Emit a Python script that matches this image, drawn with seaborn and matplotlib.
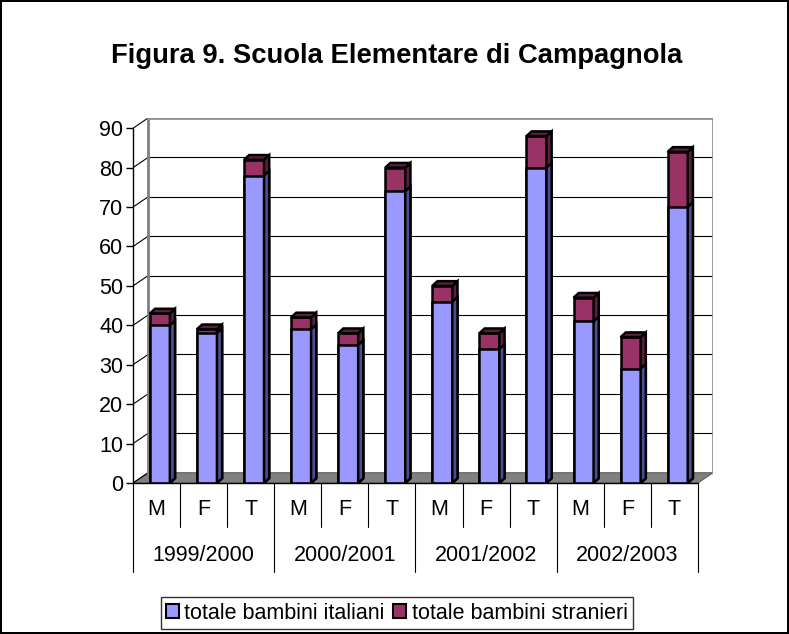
import matplotlib
matplotlib.use("Agg")
import matplotlib.pyplot as plt
from matplotlib.patches import Polygon, Patch
import seaborn as sns
import pandas as pd

# data
anni = ["1999/2000", "2000/2001", "2001/2002", "2002/2003"]
sessi = ["M", "F", "T"]
italiani = [40, 38, 78, 39, 35, 74, 46, 34, 80, 41, 29, 70]
stranieri = [3, 1, 4, 3, 3, 6, 4, 4, 8, 6, 8, 14]

col_it = "#9999FF"
col_it_side = "#4D4D8F"
col_st = "#993366"
col_st_side = "#5C1F3D"

sns.set_style("white")
plt.rcParams["font.family"] = ["Liberation Sans", "DejaVu Sans"]
plt.rcParams["text.color"] = "black"
plt.rcParams["ytick.color"] = "black"
plt.rcParams["ytick.labelcolor"] = "black"

cats = [a + " " + s for a in anni for s in sessi]
df = pd.DataFrame({
    "cat": cats,
    "italiani": italiani,
    "totale": [i + s for i, s in zip(italiani, stranieri)],
})

fs = 15.5
fig = plt.figure(figsize=(7.89, 6.34), dpi=100)
fig.patch.set_edgecolor("black")
fig.patch.set_linewidth(1.5)
ax = fig.add_axes([0.1686, 0.2382, 0.7351, 0.5757])

dx, dy = 0.32, 2.6      # depth of the back wall
bdx, bdy = 0.11, 1.2    # depth of each bar
shift = 0.07
n = len(cats)

# back wall: floor, grid, edges
ax.add_patch(Polygon([(-0.5, 0), (n - 0.5, 0), (n - 0.5 + dx, dy), (-0.5 + dx, dy)],
                     closed=True, facecolor="#808080", edgecolor="#606060", lw=0.8, zorder=0))
for t in range(10, 100, 10):
    ax.plot([-0.5 + dx, n - 0.5 + dx], [t + dy, t + dy], color="black", lw=0.8, zorder=0)
for t in range(0, 100, 10):
    ax.plot([-0.5, -0.5 + dx], [t, t + dy], color="black", lw=0.8, zorder=0)
ax.plot([-0.5 + dx, -0.5 + dx], [dy, 90 + dy], color="#808080", lw=2, zorder=0)
ax.plot([n - 0.5 + dx, n - 0.5 + dx], [dy, 90 + dy], color="#909090", lw=2, zorder=0)
ax.plot([-0.5 + dx, n - 0.5 + dx], [90 + dy, 90 + dy], color="#909090", lw=2, zorder=0)


def add_depth(bars, side_col, top):
    for p in bars:
        p.set_x(p.get_x() + shift)
        x0, w, h = p.get_x(), p.get_width(), p.get_height()
        ax.add_patch(Polygon([(x0 + w, 0), (x0 + w + bdx, bdy), (x0 + w + bdx, h + bdy), (x0 + w, h)],
                             closed=True, facecolor=side_col, edgecolor="black", lw=1.8, zorder=p.get_zorder()))
        if top:
            ax.add_patch(Polygon([(x0, h), (x0 + w, h), (x0 + w + bdx, h + bdy), (x0 + bdx, h + bdy)],
                                 closed=True, facecolor=side_col, edgecolor="black", lw=1.8,
                                 zorder=p.get_zorder()))


sns.barplot(data=df, x="cat", y="totale", color=col_st, saturation=1, width=0.425,
            edgecolor="black", linewidth=1.8, ax=ax, zorder=2)
add_depth(ax.containers[0], col_st_side, True)
sns.barplot(data=df, x="cat", y="italiani", color=col_it, saturation=1, width=0.425,
            edgecolor="black", linewidth=1.8, ax=ax, zorder=3)
add_depth(ax.containers[1], col_it_side, False)

ax.set_xlim(-0.5, n - 0.5 + dx)
ax.set_ylim(0, 90 + dy)
for s in ["top", "right", "bottom"]:
    ax.spines[s].set_visible(False)
ax.spines["left"].set_bounds(0, 90)
ax.spines["left"].set_color("black")
ax.spines["left"].set_linewidth(1)
ax.set_yticks(range(0, 100, 10))
ax.tick_params(axis="y", left=True, length=5, width=1, labelsize=fs, pad=2)
ax.set_xticks([])
ax.set_xlabel("")
ax.set_ylabel("")
ax.plot([-0.5, n - 0.5], [0, 0], color="black", lw=1, zorder=5, clip_on=False)

# category table under the axis
trans = ax.get_xaxis_transform()
for k in range(n + 1):
    bottom = -0.244 if k % 3 == 0 else -0.1205
    ax.plot([k - 0.5, k - 0.5], [0, bottom], color="black", lw=0.8, transform=trans, clip_on=False)
for i, c in enumerate(cats):
    ax.text(i, -0.073, sessi[i % 3], transform=trans, ha="center", va="center", fontsize=fs)
for j, a in enumerate(anni):
    ax.text(3 * j + 1, -0.2, a, transform=trans, ha="center", va="center", fontsize=fs)

fig.text(0.503, 0.912, "Figura 9. Scuola Elementare di Campagnola", ha="center", va="center",
         fontsize=19.7, fontweight="bold")

handles = [Patch(facecolor=col_it, edgecolor="black", linewidth=1.5, label="totale bambini italiani"),
           Patch(facecolor=col_st, edgecolor="black", linewidth=1.5, label="totale bambini stranieri")]
leg = fig.legend(handles=handles, loc="lower center", bbox_to_anchor=(0.503, 0.008), ncol=2,
                 fontsize=fs, frameon=True, fancybox=False, handlelength=0.6, handleheight=0.6,
                 handletextpad=0.25, columnspacing=0.4, borderpad=0.25, borderaxespad=0)
leg.get_frame().set_edgecolor("black")
leg.get_frame().set_linewidth(1)

fig.savefig("out.png", dpi=100)
